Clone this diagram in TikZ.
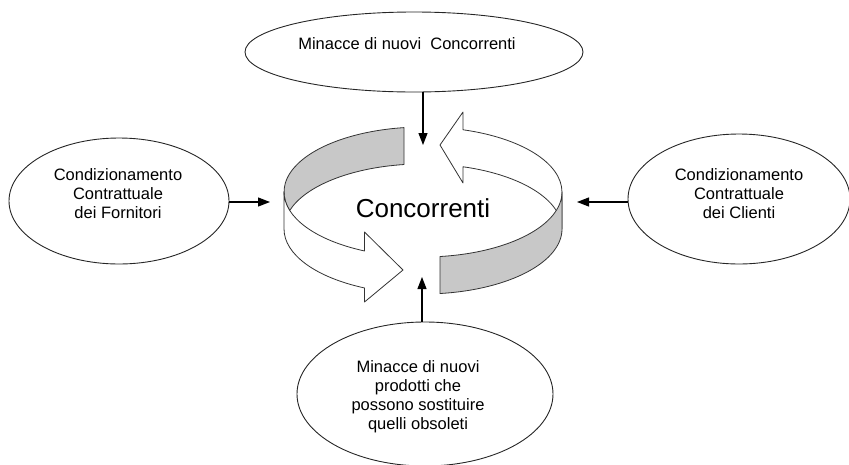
\documentclass[tikz,border=0pt]{standalone}
\usepackage{fontspec}
\setmainfont{Liberation Sans}
\usetikzlibrary{arrows.meta,shapes.geometric}
\definecolor{ribbongrey}{RGB}{200,200,200}
\begin{document}
\begin{tikzpicture}[x=1pt,y=1pt,
  oval/.style={draw=black!85, line width=0.9pt, ellipse, inner sep=0pt},
  lbl/.style={align=center, font=\fontsize{16.5}{19}\selectfont, inner sep=0pt},
  conn/.style={line width=1.2pt, -{Triangle[length=12pt,width=9pt]}},
  ribbon/.style={draw=black!80, line width=0.8pt, line join=round},
  ell/.style={x radius=139, y radius=65}
]
\useasboundingbox (0,0) rectangle (849,-464);

% outer ellipses
\node[oval, minimum width=338pt, minimum height=80pt] (top) at (414,-52) {};
\node[oval, minimum width=220pt, minimum height=126pt] (left) at (119,-201) {};
\node[oval, minimum width=222pt, minimum height=130pt] (right) at (739,-199) {};
\node[oval, minimum width=256pt, minimum height=144pt] (bottom) at (425,-394) {};

\node[lbl] (toptext) at (407,-44) {Minacce di nuovi\ \ Concorrenti};
\node[lbl] (lefttext) at (118,-194) {Condizionamento\\Contrattuale\\dei Fornitori};
\node[lbl] (righttext) at (739,-194) {Condizionamento\\Contrattuale\\dei Clienti};
\node[lbl] (bottomtext) at (418,-397) {Minacce di nuovi\\prodotti che\\possono sostituire\\quelli obsoleti};

% central circular ribbon arrows
% left: grey back wall
\draw[ribbon, fill=ribbongrey] (404,-127.61) arc[start angle=97.86, end angle=196.5, ell]
  arc[start angle=163.5, end angle=97.86, ell] -- cycle;
% left: white front arrow
\draw[ribbon, fill=white] (284,-192) arc[start angle=180, end angle=245.1, ell]
  -- (364.5,-232) -- (403,-270) -- (364.5,-302) -- (364.5,-287.96)
  arc[start angle=245.1, end angle=180, ell] -- cycle;
% right: white back arrow
\draw[ribbon, fill=white] (463,-129.76) arc[start angle=73.26, end angle=0, ell]
  -- (562,-229) arc[start angle=0, end angle=73.26, ell]
  -- (463,-183) -- (440,-145) -- (463,-112) -- cycle;
% right: grey front wall
\draw[ribbon, fill=ribbongrey] (440,-256.51) arc[start angle=-82.97, end angle=0, ell]
  -- (562,-229) arc[start angle=0, end angle=-82.97, ell] -- cycle;

\node[font=\fontsize{26}{30}\selectfont, inner sep=0pt] (center) at (423,-208) {Concorrenti};

% connectors
\coordinate (ttip) at (423,-145);
\coordinate (ltip) at (270,-202);
\coordinate (rtip) at (577,-202);
\coordinate (btip) at (422,-277);
\draw[conn] (ttip |- top.south) -- (ttip);
\draw[conn] (ltip -| left.east) -- (ltip);
\draw[conn] (rtip -| right.west) -- (rtip);
\draw[conn] (btip |- bottom.north) -- (btip);
\end{tikzpicture}
\end{document}
